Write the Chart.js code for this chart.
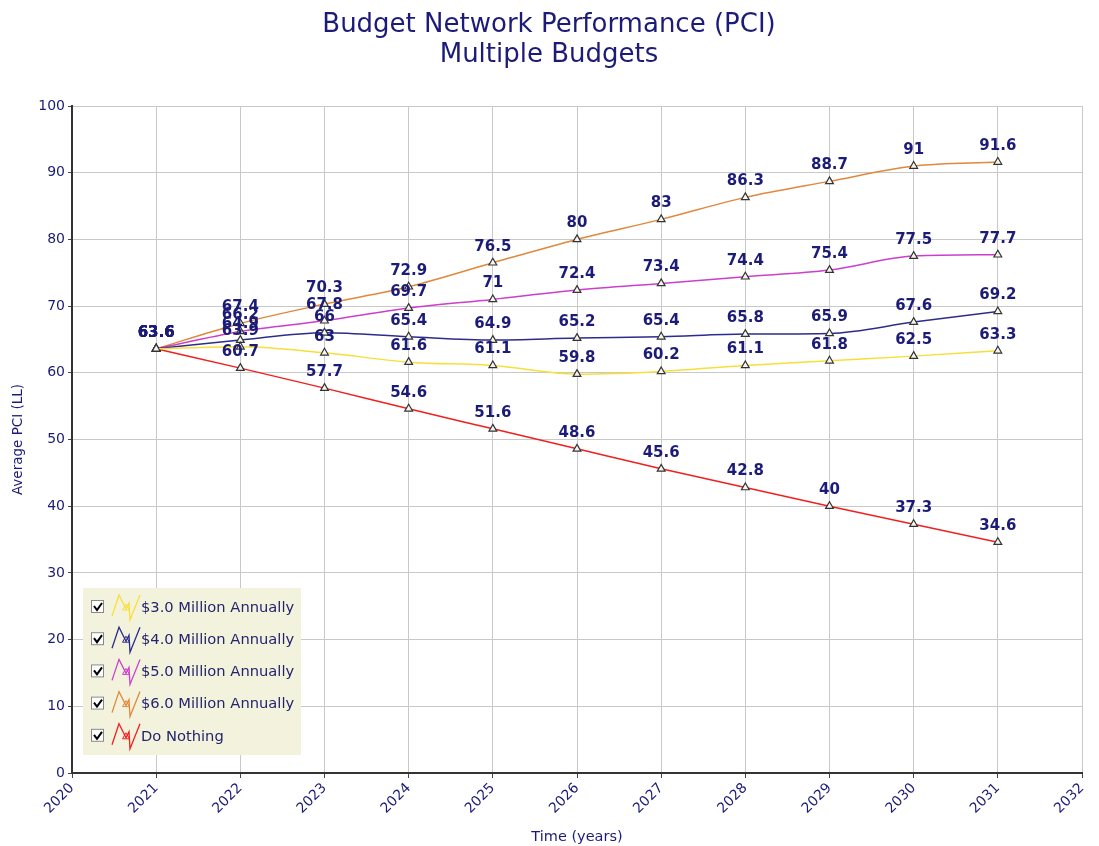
<!DOCTYPE html>
<html>
<head>
<meta charset="utf-8">
<script src="https://cdn.jsdelivr.net/npm/chart.js@4/dist/chart.umd.min.js"></script>
<style>
  html, body { margin: 0; padding: 0; background: #ffffff; }
  #wrap { position: relative; width: 1099px; height: 846px; }
</style>
</head>
<body>
<div id="wrap"><canvas id="c" width="1099" height="846"></canvas></div>
<script>
const years = [2021, 2022, 2023, 2024, 2025, 2026, 2027, 2028, 2029, 2030, 2031];
const seriesNames = ["$3.0 Million Annually", "$4.0 Million Annually", "$5.0 Million Annually", "$6.0 Million Annually", "Do Nothing"];
const budget3 = [63.6, 63.9, 63, 61.6, 61.1, 59.8, 60.2, 61.1, 61.8, 62.5, 63.3];
const budget4 = [63.6, 64.9, 66, 65.4, 64.9, 65.2, 65.4, 65.8, 65.9, 67.6, 69.2];
const budget5 = [63.6, 66.2, 67.8, 69.7, 71, 72.4, 73.4, 74.4, 75.4, 77.5, 77.7];
const budget6 = [63.6, 67.4, 70.3, 72.9, 76.5, 80, 83, 86.3, 88.7, 91, 91.6];
const doNothing = [63.6, 60.7, 57.7, 54.6, 51.6, 48.6, 45.6, 42.8, 40, 37.3, 34.6];
const seriesColors = ["#f7df3a", "#2c2c8c", "#cc3fcc", "#e0883c", "#f02020"];
const xTicks = [2020, 2021, 2022, 2023, 2024, 2025, 2026, 2027, 2028, 2029, 2030, 2031, 2032];
const yTicks = [0, 10, 20, 30, 40, 50, 60, 70, 80, 90, 100];
const titleLines = ["Budget Network Performance (PCI)", "Multiple Budgets"];

const NAVY = "#1c1c78";
const allSeries = [budget3, budget4, budget5, budget6, doNothing];

const datasets = allSeries.map((vals, i) => ({
  label: seriesNames[i],
  data: years.map((y, k) => ({ x: y, y: vals[k] })),
  borderColor: seriesColors[i],
  borderWidth: 1.5,
  cubicInterpolationMode: 'monotone',
  pointStyle: 'triangle',
  pointRadius: 4.5,
  pointBorderWidth: 1.2,
  pointBorderColor: '#333333',
  pointBackgroundColor: '#f6f6f0',
  fill: false
}));

const titlePlugin = {
  id: 'titleDraw',
  afterDraw(chart) {
    const ctx = chart.ctx;
    ctx.save();
    ctx.fillStyle = NAVY;
    ctx.font = '26px "DejaVu Sans", Verdana, sans-serif';
    ctx.textAlign = 'center';
    ctx.textBaseline = 'middle';
    ctx.fillText(titleLines[0], 549, 25);
    ctx.fillText(titleLines[1], 549, 55);
    ctx.restore();
  }
};

const labelPlugin = {
  id: 'pointLabels',
  afterDatasetsDraw(chart) {
    const ctx = chart.ctx;
    ctx.save();
    ctx.fillStyle = NAVY;
    ctx.font = 'bold 15px "DejaVu Sans", Verdana, sans-serif';
    ctx.textAlign = 'center';
    ctx.textBaseline = 'middle';
    chart.data.datasets.forEach((ds, i) => {
      const meta = chart.getDatasetMeta(i);
      meta.data.forEach((pt, k) => {
        ctx.fillText(String(ds.data[k].y), pt.x, pt.y - 16);
      });
    });
    ctx.restore();
  }
};

const legendPlugin = {
  id: 'customLegend',
  afterDraw(chart) {
    const ctx = chart.ctx;
    ctx.save();
    const bx = 83, by = 588, bw = 218, bh = 167;
    ctx.fillStyle = '#f3f3dd';
    ctx.fillRect(bx, by, bw, bh);
    chart.data.datasets.forEach((ds, i) => {
      const cy = 607 + i * 32.2;
      // checkbox
      ctx.fillStyle = '#ffffff';
      ctx.fillRect(91, cy - 7, 13, 13);
      ctx.strokeStyle = '#888888';
      ctx.lineWidth = 1;
      ctx.strokeRect(91.5, cy - 6.5, 12, 12);
      ctx.strokeStyle = '#000000';
      ctx.lineWidth = 2;
      ctx.beginPath();
      ctx.moveTo(94, cy - 1);
      ctx.lineTo(97, cy + 3);
      ctx.lineTo(102, cy - 4);
      ctx.stroke();
      // zigzag icon
      ctx.strokeStyle = ds.borderColor;
      ctx.lineWidth = 1.3;
      ctx.beginPath();
      ctx.moveTo(112, cy + 9);
      ctx.lineTo(119, cy - 12);
      ctx.lineTo(126, cy + 2);
      ctx.lineTo(129, cy - 4);
      ctx.lineTo(130, cy + 13);
      ctx.lineTo(140, cy - 12);
      ctx.stroke();
      // small triangle
      ctx.lineWidth = 1;
      ctx.beginPath();
      ctx.moveTo(126, cy - 3);
      ctx.lineTo(129.5, cy + 3);
      ctx.lineTo(122.5, cy + 3);
      ctx.closePath();
      ctx.stroke();
      // text
      ctx.fillStyle = '#24246e';
      ctx.font = '14.7px "DejaVu Sans", Verdana, sans-serif';
      ctx.textAlign = 'left';
      ctx.textBaseline = 'middle';
      ctx.fillText(ds.label, 141, cy + 1);
    });
    ctx.restore();
  }
};

new Chart(document.getElementById('c'), {
  type: 'line',
  data: { datasets },
  options: {
    responsive: false,
    animation: false,
    layout: { padding: { top: 106, right: 17, left: 0, bottom: 0 } },
    plugins: {
      legend: { display: false },
      title: { display: false },
      tooltip: { enabled: false }
    },
    scales: {
      x: {
        type: 'linear',
        min: xTicks[0],
        max: xTicks[xTicks.length - 1],
        afterBuildTicks(scale) { scale.ticks = xTicks.map(v => ({ value: v })); },
        afterFit(scale) { scale.height = 73; },
        ticks: {
          color: NAVY,
          font: { family: '"DejaVu Sans", Verdana, sans-serif', size: 14 },
          minRotation: 45,
          maxRotation: 45,
          padding: 2,
          callback: v => String(v)
        },
        grid: { color: '#c8c8c8', lineWidth: 1, tickLength: 5, tickColor: '#444' },
        border: { color: '#333333', width: 2 },
        title: {
          display: true,
          text: 'Time (years)',
          color: NAVY,
          font: { family: '"DejaVu Sans", Verdana, sans-serif', size: 14.5 },
          padding: { top: 0, bottom: 0 }
        }
      },
      y: {
        min: 0,
        max: 100,
        afterBuildTicks(scale) { scale.ticks = yTicks.map(v => ({ value: v })); },
        afterFit(scale) { scale.width = 72; },
        ticks: {
          color: NAVY,
          font: { family: '"DejaVu Sans", Verdana, sans-serif', size: 14 },
          padding: 3
        },
        grid: { color: '#c8c8c8', lineWidth: 1, tickLength: 4, tickColor: '#444' },
        border: { color: '#333333', width: 2 },
        title: {
          display: true,
          text: 'Average PCI (LL)',
          color: NAVY,
          font: { family: '"DejaVu Sans", Verdana, sans-serif', size: 13.5 },
          padding: { top: 10, bottom: 0 }
        }
      }
    }
  },
  plugins: [titlePlugin, labelPlugin, legendPlugin]
});
</script>
</body>
</html>
